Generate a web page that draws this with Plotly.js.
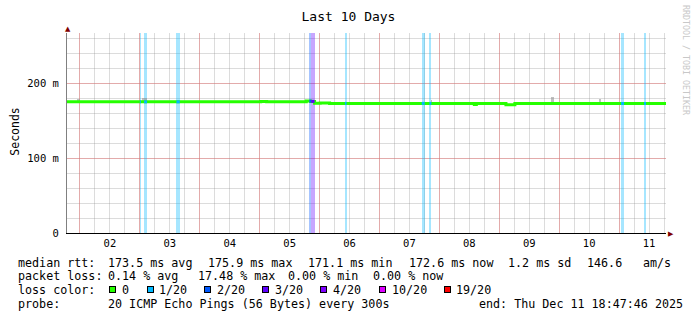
<!DOCTYPE html>
<html>
<head>
<meta charset="utf-8">
<script src="https://cdn.plot.ly/plotly-3.0.1.min.js"></script>
<style>html,body{margin:0;padding:0;background:#fff;}#chart{width:697px;height:321px;}</style>
</head>
<body>
<div id="chart"></div>
<script>
// ---------- data ----------
const xRange = ['2025-12-01 18:47:46', '2025-12-11 18:47:46'];
const yRange = [0, 266.67];

const dayLabels = ['02','03','04','05','06','07','08','09','10','11'];
const dayNoons = ['2025-12-02 12:00','2025-12-03 12:00','2025-12-04 12:00','2025-12-05 12:00','2025-12-06 12:00',
                  '2025-12-07 12:00','2025-12-08 12:00','2025-12-09 12:00','2025-12-10 12:00','2025-12-11 12:00'];
const dayStarts = ['2025-12-02','2025-12-03','2025-12-04','2025-12-05','2025-12-06',
                   '2025-12-07','2025-12-08','2025-12-09','2025-12-10','2025-12-11'];
const yTickVals = [0, 100, 200];
const yTickText = ['0', '100 m', '200 m'];

// median rtt (ms), step changes
const medianTimes = ['2025-12-01 18:47','2025-12-05 00:24','2025-12-05 02:48','2025-12-05 18:40','2025-12-05 20:24',
                     '2025-12-05 22:00','2025-12-06 00:15','2025-12-06 04:00','2025-12-08 14:00','2025-12-08 14:48',
                     '2025-12-09 02:40','2025-12-09 06:15','2025-12-11 18:47'];
const medianValues = [174.9, 175.3, 174.9, 175.9, 175.5,
                      173.1, 173.3, 172.8, 171.5, 172.8,
                      171.1, 172.7, 172.6];

// packet loss events: centre time, duration (minutes), lost pings of 20
const lossTimes = ['2025-12-03 00:12','2025-12-03 02:17','2025-12-03 15:19','2025-12-05 20:17','2025-12-05 21:19',
                   '2025-12-06 10:29','2025-12-07 17:31','2025-12-07 20:24','2025-12-11 01:24','2025-12-11 10:24'];
const lossMinutes = [24, 72, 80, 48, 80, 40, 72, 48, 72, 48];
const lossCounts = [1, 1, 1, 2, 3, 1, 1, 1, 1, 1];

// smoke (min/max ping spread) spots
const smokeTimes = ['2025-12-01 23:24','2025-12-03 01:48','2025-12-07 21:00','2025-12-09 21:19','2025-12-10 16:24'];
const smokeMinutes = [72, 134, 24, 80, 48];
const smokeMin = [174.5, 174.0, 173.0, 173.0, 173.0];
const smokeMax = [178.3, 180.0, 177.0, 181.7, 179.0];

const lossLevels = ['0','1/20','2/20','3/20','4/20','10/20','19/20'];
const lossLevelCounts = [0, 1, 2, 3, 4, 10, 19];
const lossColors = ['#26ff00','#00b8ff','#0059ff','#5e00ff','#7e00ff','#dd00ff','#ff0000'];

const statsRtt = ['173.5 ms avg','175.9 ms max','171.1 ms min','172.6 ms now','1.2 ms sd','146.6','am/s'];
const statsLoss = ['0.14 % avg','17.48 % max','0.00 % min','0.00 % now'];
const probeText = '20 ICMP Echo Pings (56 Bytes) every 300s';
const endText = 'end: Thu Dec 11 18:47:46 2025';

// ---------- helpers ----------
const W = 697, H = 321, ML = 67, MR = 31, MT = 33, MB = 88;
const PW = W - ML - MR, PH = H - MT - MB;
const px = x => (x - ML) / PW;
const py = y => (MT + PH - y) / PH;
const MONO = 'DejaVu Sans Mono, monospace';
function colorFor(n){ let c = lossColors[0]; lossLevelCounts.forEach((v,i)=>{ if(n>=v) c = lossColors[i]; }); return c; }
function hexA(hex,a){ const r=parseInt(hex.slice(1,3),16),g=parseInt(hex.slice(3,5),16),b=parseInt(hex.slice(5,7),16); return `rgba(${r},${g},${b},${a})`; }
function ms(t){ return new Date(t.replace(' ','T')+':00Z').getTime(); }
function medianAt(t){ const tm = ms(t); let v = medianValues[0]; medianTimes.forEach((mt,i)=>{ if(ms(mt) <= tm) v = medianValues[i]; }); return v; }
function iso(n){ return new Date(n).toISOString().slice(0,19).replace('T',' '); }

// ---------- traces ----------
const traces = [];
// carrier for the day-boundary grid axis (draws nothing)
traces.push({type:'scatter', mode:'lines', x: xRange, y:[null,null], xaxis:'x2', yaxis:'y', hoverinfo:'skip', showlegend:false});
traces.push({
  type:'bar', x: lossTimes, y: lossTimes.map(()=>yRange[1]), base: 0,
  width: lossMinutes.map(m=>m*60000), marker:{color: lossCounts.map(n=>hexA(colorFor(n),0.35)), line:{width:0}},
  hoverinfo:'skip', showlegend:false
});
traces.push({
  type:'bar', x: smokeTimes, y: smokeMax.map((v,i)=>v-smokeMin[i]), base: smokeMin,
  width: smokeMinutes.map(m=>m*60000), marker:{color:'rgba(150,150,150,0.6)', line:{width:0}},
  hoverinfo:'skip', showlegend:false
});
traces.push({
  type:'scatter', mode:'lines', x: medianTimes, y: medianValues,
  line:{color: lossColors[0], width:3, shape:'hv'}, hoverinfo:'skip', showlegend:false
});
// loss-coloured median segments
lossTimes.forEach((t,i)=>{
  const c = ms(t), half = lossMinutes[i]*30000;
  const v = medianAt(t);
  traces.push({type:'scatter', mode:'lines', x:[iso(c-half), iso(c+half)], y:[v,v],
    line:{color: colorFor(lossCounts[i]), width:3}, hoverinfo:'skip', showlegend:false});
});

// ---------- annotations ----------
const ann = [];
const txt = (x,y,text,opts={}) => ann.push(Object.assign({xref:'paper',yref:'paper',x:px(x),y:py(y),text,showarrow:false,
  xanchor:'left',yanchor:'middle',borderpad:0,font:{family:MONO,size:11.7,color:'#000'}},opts));
txt(16.7,262.5,'median rtt:');
[107.3,207.3,307.3,407.7,506.7,586,642.3].forEach((x,i)=>txt(x,262.5,statsRtt[i]));
txt(16.7,276,'packet loss:');
[107.3,197,287,372.3].forEach((x,i)=>txt(x,276,statsLoss[i]));
txt(16.7,289.5,'loss color:');
const sqX = [109.3,146.7,204.3,262.3,320,379,443.7];
lossLevels.forEach((l,i)=>{
  ann.push({xref:'paper',yref:'paper',x:px(sqX[i]),y:py(289.5),text:' ',showarrow:false,xanchor:'left',yanchor:'middle',
    width:5,height:5,bgcolor:lossColors[i],bordercolor:'#000',borderwidth:1,borderpad:0,font:{size:4}});
  txt(sqX[i]+11.7,289.5,l);
});
txt(16.7,303.5,'probe:');
txt(107.3,303.5,probeText);
txt(478.3,303.5,endText);
// y-axis title
ann.push({xref:'paper',yref:'paper',x:px(15),y:py(131.7),text:'Seconds',showarrow:false,textangle:-90,
  xanchor:'center',yanchor:'middle',font:{family:MONO,size:11.5,color:'#000'}});
// watermark
ann.push({xref:'paper',yref:'paper',x:px(686),y:py(60),text:'RRDTOOL / TOBI OETIKER',showarrow:false,textangle:90,
  xanchor:'center',yanchor:'middle',font:{family:MONO,size:8.3,color:'#c8c8c8'}});
// arrows
ann.push({xref:'paper',yref:'paper',x:px(67.5),y:py(28.5),text:'▲',showarrow:false,xanchor:'center',yanchor:'middle',
  font:{family:'DejaVu Sans',size:7,color:'#800000'}});
ann.push({xref:'paper',yref:'paper',x:px(670.5),y:py(233.5),text:'▶',showarrow:false,xanchor:'center',yanchor:'middle',
  font:{family:'DejaVu Sans',size:7,color:'#800000'}});

const redGrid = 'rgba(235,110,110,0.45)';
const grayGrid = 'rgba(140,140,140,0.3)';
const layout = {
  width:W, height:H, margin:{l:ML,r:MR,t:MT,b:MB,pad:0},
  paper_bgcolor:'#fff', plot_bgcolor:'#fff', showlegend:false, barmode:'overlay', bargap:0,
  title:{text:'Last 10 Days', x:0.5, xref:'container', xanchor:'center', y:1-16/H, yref:'container', yanchor:'middle',
    font:{family:MONO,size:13,color:'#000'}},
  xaxis:{type:'date', range:xRange, tickmode:'array', tickvals:dayNoons, ticktext:dayLabels, showgrid:false,
    ticks:'', tickfont:{family:MONO,size:10.5,color:'#000'}, showline:true, linecolor:'#000', linewidth:1,
    minor:{showgrid:true, dtick:6*3600*1000, tick0:'2025-12-02', gridcolor:grayGrid, gridwidth:1, ticks:''},
    zeroline:false, fixedrange:true},
  xaxis2:{type:'date', overlaying:'x', matches:'x', anchor:'y', range:xRange, tickmode:'array', tickvals:dayStarts,
    showticklabels:false, showgrid:true, gridcolor:redGrid, gridwidth:1, ticks:'', showline:false, zeroline:false},
  yaxis:{range:yRange, tickmode:'array', tickvals:yTickVals, ticktext:yTickText, showgrid:true,
    gridcolor:redGrid, gridwidth:1, ticks:'', ticklabelstandoff:5,
    tickfont:{family:MONO,size:10.5,color:'#000'}, showline:true, linecolor:'#808080', linewidth:1, zeroline:false,
    minor:{showgrid:true, dtick:20, tick0:0, gridcolor:grayGrid, gridwidth:1, ticks:''}, fixedrange:true},
  annotations: ann
};
Plotly.newPlot('chart', traces, layout, {staticPlot:true, displayModeBar:false});
</script>
</body>
</html>
